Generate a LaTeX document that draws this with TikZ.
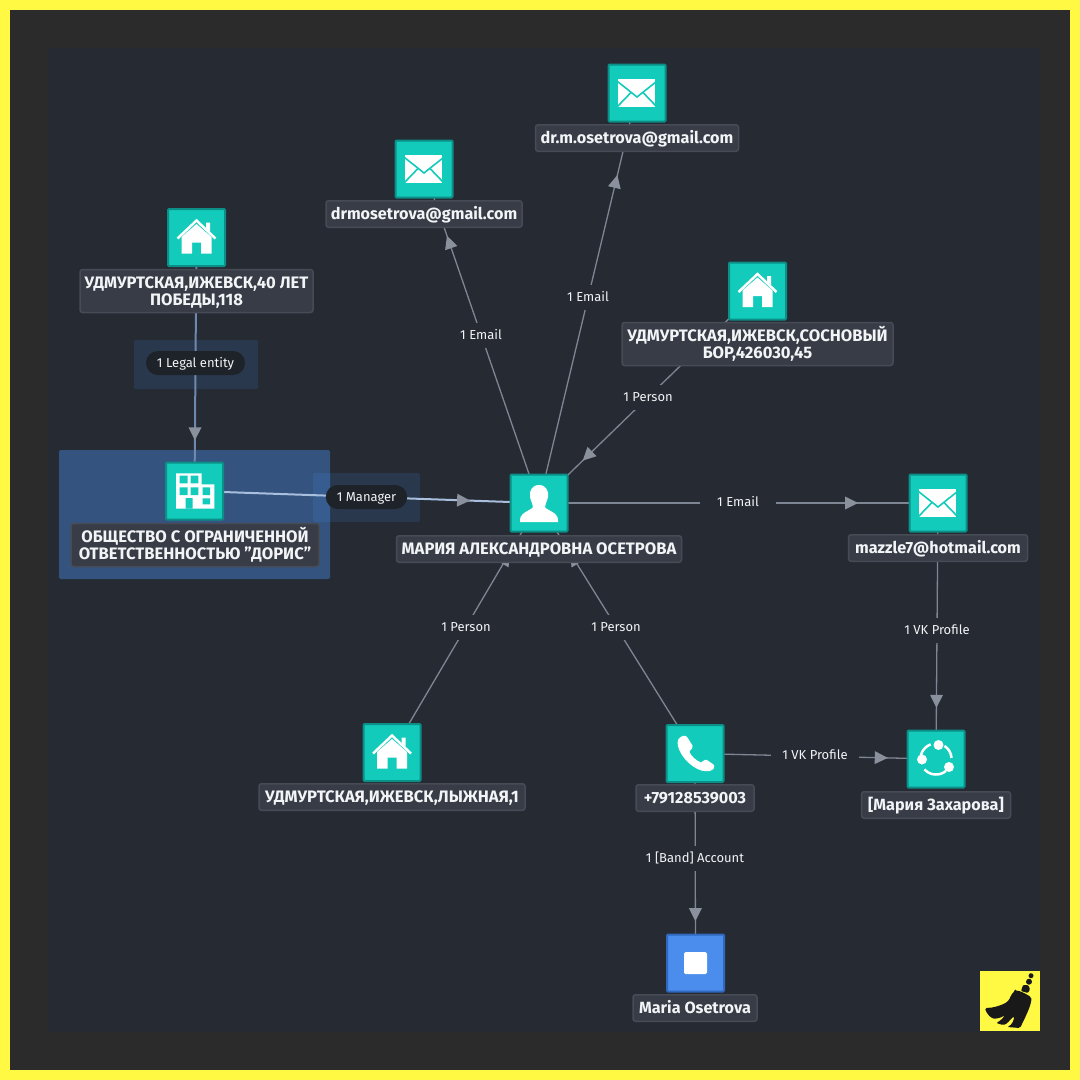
\documentclass[tikz,border=0pt]{standalone}
\usepackage{fontspec}
\setmainfont{Fira Sans}
\usetikzlibrary{decorations.markings}
\pgfdeclarelayer{bg}\pgfdeclarelayer{hl}\pgfdeclarelayer{edges}
\pgfsetlayers{bg,hl,edges,main}
\definecolor{ybg}{HTML}{FFF944}
\definecolor{outer}{HTML}{2B2B2B}
\definecolor{panel}{HTML}{252A33}
\definecolor{teal1}{HTML}{12CBBB}
\definecolor{teal2}{HTML}{0C8F86}
\definecolor{blue1}{HTML}{4A8DEC}
\definecolor{blue2}{HTML}{2F68BC}
\definecolor{lab}{HTML}{373C47}
\definecolor{labb}{HTML}{464B56}
\definecolor{edgec}{HTML}{7F8693}
\definecolor{tipc}{HTML}{8A909C}
\definecolor{hlbox}{HTML}{34547F}
\definecolor{pill}{HTML}{1E2229}
\definecolor{txt}{HTML}{F2F4F6}
\newcommand{\tstr}{\rule{0pt}{15.5pt}}
\tikzset{
 x=1pt,y=-1pt,
 icon/.style={draw=teal2,fill=teal1,line width=2pt,minimum size=57pt,inner sep=0pt,rounded corners=1pt},
 bicon/.style={icon,draw=blue2,fill=blue1},
 lbl/.style={draw=labb,fill=lab,line width=1.5pt,rounded corners=2.5pt,text=txt,font=\fontsize{16.2}{17}\selectfont\bfseries,align=center,inner xsep=0pt,inner ysep=0pt,minimum height=26.5pt,minimum width=#1,text height=12pt,text depth=1pt},
 lblcap/.style={lbl=#1,font=\fontsize{16.6}{17}\selectfont\bfseries},
 lbltwo/.style={lblcap=#1,minimum height=43pt,text height={},text depth={}},
 elbl/.style={fill=panel,text=txt,font=\fontsize{13}{14}\selectfont,inner xsep=11pt,inner ysep=0pt,minimum height=25pt,text height=9pt,text depth=1pt},
 plbl/.style={fill=pill,text=txt,rounded corners=12pt,font=\fontsize{13}{14}\selectfont,inner xsep=11pt,inner ysep=0pt,minimum height=24pt,text height=9pt,text depth=1pt},
 edge/.style={draw=edgec,line width=1.3pt,postaction={decorate},decoration={markings,mark=at position 0.8 with {\fill[tipc] (-13pt,-6.5pt)--(0pt,0pt)--(-13pt,6.5pt)--cycle;}}},
 hledge/.style={edge,line width=2pt,draw=#1},
 houseicon/.pic={
  \fill[white] (-15,-0.5)--(0,-13.5)--(15,-0.5)--(15,16)--(4.5,16)--(4.5,5)--(-4.5,5)--(-4.5,16)--(-15,16)--cycle;
  \draw[white,line width=2.5pt] (-19,1)--(0,-17)--(19,1);
  \fill[white] (9.5,-15)--(13.5,-15)--(13.5,-6)--(9.5,-9.5)--cycle;},
 mailicon/.pic={
  \fill[white] (-18.7,-13.7) rectangle (18.3,13.7);
  \draw[teal1,line width=1.6pt] (-19.5,-11.5)--(0,4)--(19.5,-11.5);
  \draw[teal1,line width=1.6pt] (-19.5,13.5)--(-6,-0.5);
  \draw[teal1,line width=1.6pt] (19.5,13.5)--(6,-0.5);},
 orgicon/.pic={
  \fill[white] (-18.5,-17.7)--(7,-17.7)--(7,-6.7)--(19.8,-6.7)--(19.8,17.5)--(-18.5,17.5)--cycle;
  \fill[teal1] (-15,-15.3) rectangle (-7,-7.7) (-4,-15.3) rectangle (3.8,-7.7)
   (-15,-3.7) rectangle (-7,4) (-4,-3.7) rectangle (3.8,4) (8,-3.7) rectangle (15.5,4)
   (8,7.3) rectangle (15.5,13.3) (-9,7) rectangle (-2,17.5);},
 personicon/.pic={
  \fill[white] (0,-18) .. controls (7,-18) and (10,-12) .. (9,-6) .. controls (8,-1) and (6,1) .. (6,4)
   .. controls (7,7) and (19,9) .. (19,17) -- (19,19) -- (-19,19) -- (-19,17)
   .. controls (-19,9) and (-7,7) .. (-6,4) .. controls (-6,1) and (-8,-1) .. (-9,-6) .. controls (-10,-12) and (-7,-18) .. (0,-18) -- cycle;},
 phoneicon/.pic={
  \fill[white] (-16.5,-14.5) .. controls (-14,-18) and (-9,-19) .. (-7.5,-16) -- (-2.5,-8) .. controls (-1.5,-5) and (-5.5,-3.5) .. (-5.5,-1.5)
   .. controls (-3.5,3) and (1,7) .. (6,9) .. controls (8,9) and (9,5) .. (12,6.5) -- (18.5,11) .. controls (20.5,13) and (18.5,17) .. (14.5,17.5)
   .. controls (4,19.5) and (-8,10) .. (-14,0) .. controls (-17,-5) and (-18.5,-11) .. (-16.5,-14.5) -- cycle;},
 shareicon/.pic={
  \draw[white,line width=2.5pt] plot[domain=178:250,samples=16] ({15.5*cos(\x)},{15.5*sin(\x)});
  \draw[white,line width=2.5pt] plot[domain=-57:-4,samples=16] ({15.5*cos(\x)},{15.5*sin(\x)});
  \draw[white,line width=2.5pt] plot[domain=50:138,samples=16] ({15.5*cos(\x)},{15.5*sin(\x)});
  \fill[white] (2.5,-14) circle[radius=5] (-14,0.5) circle[radius=5] (13,8) circle[radius=5];},
}
\begin{document}
\begin{tikzpicture}
\useasboundingbox (0,0) rectangle (1080,1080);
\begin{pgfonlayer}{bg}
\fill[ybg] (0,0) rectangle (1080,1080);
\fill[outer] (10,10) rectangle (1070,1070);
\fill[panel] (48,48) rectangle (1040,1032);
\end{pgfonlayer}

\begin{pgfonlayer}{hl}
 \fill[hlbox,rounded corners=2pt] (59,450) rectangle (330,579);
 \fill[blue1,opacity=.15,rounded corners=2pt] (134,340) rectangle (258,389);
 \fill[blue1,opacity=.15,rounded corners=2pt] (313,473) rectangle (420,522);
\end{pgfonlayer}

% icons
\node[icon] (m2) at (637,93) {};
\node[icon] (m1) at (424,169) {};
\node[icon] (h1) at (196.5,237.5) {};
\node[icon] (h2) at (757.5,291) {};
\node[icon] (org) at (194.5,491) {};
\node[icon] (pers) at (539,503) {};
\node[icon] (m3) at (938,503) {};
\node[icon] (h3) at (392,752.5) {};
\node[icon] (tel) at (695,753.5) {};
\node[icon] (vk) at (936,759) {};
\node[bicon] (band) at (695.5,963) {};
\pic at (m2) {mailicon};
\pic at (m1) {mailicon};
\pic at (m3) {mailicon};
\pic at (h1) {houseicon};
\pic at (h2) {houseicon};
\pic at (h3) {houseicon};
\pic at (org) {orgicon};
\pic at (pers) {personicon};
\pic at (tel) {phoneicon};
\pic at (vk) {shareicon};
\fill[white,rounded corners=1.5pt] (684,952) rectangle (707,974);

% labels
\node[lbl=203pt] (lm2) at (637,138) {dr.m.osetrova@gmail.com};
\node[lbl=196pt] (lm1) at (424,214) {drmosetrova@gmail.com};
\node[lbltwo=233pt] (lh1) at (196.5,291) {\tstr УДМУРТСКАЯ,ИЖЕВСК,40 ЛЕТ\\ПОБЕДЫ,118};
\node[lbltwo=271pt] (lh2) at (757.5,344) {\tstr УДМУРТСКАЯ,ИЖЕВСК,СОСНОВЫЙ\\БОР,426030,45};
\node[lbltwo=248pt] (lorg) at (195,545) {\tstr ОБЩЕСТВО С ОГРАНИЧЕННОЙ\\ОТВЕТСТВЕННОСТЬЮ "ДОРИС"};
\node[lblcap=285pt] (lpers) at (539,549) {МАРИЯ АЛЕКСАНДРОВНА ОСЕТРОВА};
\node[lbl=179pt] (lm3) at (938,548) {mazzle7@hotmail.com};
\node[lblcap=266pt] (lh3) at (392,797) {УДМУРТСКАЯ,ИЖЕВСК,ЛЫЖНАЯ,1};
\node[lbl=118pt] (ltel) at (695,798) {+79128539003};
\node[lbl=149pt] (lvk) at (936,805) {[Мария Захарова]};
\node[lbl=124pt] (lband) at (695,1008) {Maria Osetrova};

% edge labels
\node[elbl] (e1) at (481,335) {1 Email};
\node[elbl] (e2) at (588,297) {1 Email};
\node[elbl] (e3) at (648,397) {1 Person};
\node[plbl] (e4) at (195.5,363) {1 Legal entity};
\node[plbl] (e5) at (366.5,497) {1 Manager};
\node[elbl,inner xsep=17pt] (e6) at (738,502) {1 Email};
\node[elbl] (e7) at (937,630) {1 VK Profile};
\node[elbl] (e8) at (815,755) {1 VK Profile};
\node[elbl] (e9) at (695,858) {1 [Band] Account};
\node[elbl] (e10) at (466,627) {1 Person};
\node[elbl] (e11) at (616,627) {1 Person};

% connectors
\begin{pgfonlayer}{edges}
 \draw[edge] (pers.center) -- (m1.center);
 \draw[edge] (pers.center) -- (m2.center);
 \draw[edge] (h2.center) -- (pers.center);
 \draw[hledge=edgec!70!blue1] (h1.center) -- (org.center);
 \draw[hledge=blue1!40!white!75!edgec] (org.center) -- (pers.center);
 \draw[edge] (pers.center) -- (m3.center);
 \draw[edge] (m3.center) -- (vk.center);
 \draw[edge] (tel.center) -- (vk.center);
 \draw[edge] (tel.center) -- (band.center);
 \draw[edge] (h3.center) -- (pers.center);
 \draw[edge] (tel.center) -- (pers.center);
\end{pgfonlayer}

% broom badge
\fill[ybg] (980,971) rectangle (1040,1031);
\fill[black!90] (1031,975.7) circle[radius=2.5];
\fill[black!90] (1029,981.7) circle[radius=3];
\fill[black!90,rounded corners=1pt] (1023,985) -- (1028,985) -- (1030,989) -- (1028,993) -- (1021,991) -- cycle;
\fill[black!90,rounded corners=1.5pt] (1015,991) .. controls (1019,990) and (1026,994) .. (1031,997)
 .. controls (1032,1003) and (1027,1014) .. (1020,1028) -- (1007,1027) .. controls (1012,1025) and (1014,1020) .. (1014,1016)
 .. controls (1010,1020) and (1007,1024) .. (1003,1025) -- (996,1023) .. controls (1000,1021) and (1003,1018) .. (1005,1015)
 .. controls (1001,1018) and (995,1019) .. (992,1018) .. controls (989,1016) and (986,1012) .. (985,1008)
 .. controls (994,1008) and (1002,1005) .. (1007,1002) .. controls (1010,999) and (1011,994) .. (1015,991) -- cycle;
\end{tikzpicture}
\end{document}
